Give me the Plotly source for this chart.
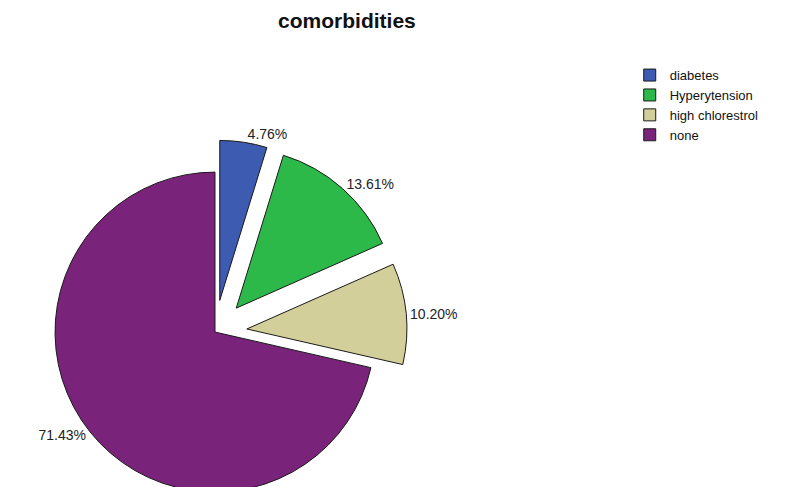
import plotly.graph_objects as go

# Data
categories = ["diabetes", "Hyperytension", "high chlorestrol", "none"]
counts = [7, 20, 15, 105]
colors = ["#3D5BB0", "#2DB94A", "#D3CF9A", "#7A237A"]
pulls = [0.2, 0.2, 0.2, 0.0]

fig = go.Figure(
    go.Pie(
        labels=categories,
        values=counts,
        sort=False,
        direction="clockwise",
        rotation=0,
        pull=pulls,
        marker=dict(colors=colors, line=dict(color="#1a1a1a", width=1)),
        texttemplate="%{percent:.2%}",
        textposition="outside",
        textfont=dict(family="Liberation Sans, Arial, sans-serif", size=14, color="#222222"),
        domain=dict(x=[0, 0.5227], y=[0, 0.744]),
        hoverinfo="label+percent",
    )
)

fig.update_layout(
    width=792,
    height=516,
    margin=dict(l=0, r=0, t=0, b=0, autoexpand=False),
    paper_bgcolor="white",
    plot_bgcolor="white",
    title=dict(
        text="<b>comorbidities</b>",
        x=0.428,
        xanchor="center",
        y=0.975,
        yanchor="middle",
        font=dict(family="Liberation Sans, Arial, sans-serif", size=21, color="#111111"),
    ),
    legend=dict(
        x=0.785,
        xanchor="left",
        y=0.899,
        yanchor="top",
        font=dict(family="Liberation Sans, Arial, sans-serif", size=13, color="#111111"),
        bgcolor="rgba(0,0,0,0)",
        traceorder="normal",
        itemwidth=30,
    ),
    showlegend=True,
)

fig.write_html("out.html")
